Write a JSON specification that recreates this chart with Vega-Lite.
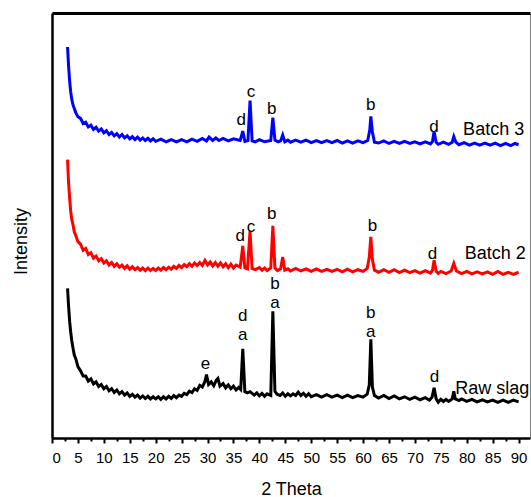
{
"$schema": "https://vega.github.io/schema/vega-lite/v6.json",
"width": 478, "height": 425,
"autosize": "none",
"padding": {"left": 52, "top": 13, "right": 1, "bottom": 59},
"background": "white",
"config": {
 "view": {"stroke": "#808080", "strokeWidth": 1},
 "font": "Liberation Sans",
 "axisY": {"grid": false, "ticks": false, "labels": false, "domainColor": "black", "domainWidth": 2.5, "titleFontSize": 18, "titleFontWeight": "normal", "titleColor": "black", "titleFont": "Liberation Sans", "titlePadding": 22, "titleY": 228},
 "axisX": {"grid": false}
},
"datasets": {
"k": [
{"x":3.0,"y":35.2},{"x":3.2,"y":31.0},{"x":3.4,"y":27.5},{"x":3.6,"y":25.0},{"x":3.8,"y":23.0},{"x":4.0,"y":21.5},{"x":4.3,"y":19.5},{"x":4.6,"y":18.6},{"x":5.0,"y":16.8},{"x":5.5,"y":15.8},{"x":6.0,"y":14.6},{"x":6.5,"y":14.6},{"x":7.0,"y":13.4},{"x":7.5,"y":13.9},{"x":8.0,"y":12.7},{"x":8.5,"y":13.2},{"x":9.0,"y":12.1},{"x":9.5,"y":12.6},{"x":10.0,"y":11.6},{"x":10.5,"y":12.1},{"x":11.0,"y":11.1},{"x":11.5,"y":11.6},{"x":12.0,"y":10.7},{"x":12.5,"y":11.3},{"x":13.0,"y":10.4},{"x":13.5,"y":10.9},{"x":14,"y":10.1},{"x":14.5,"y":10.6},{"x":15,"y":9.8},{"x":15.5,"y":10.3},{"x":16,"y":9.6},{"x":16.5,"y":10.1},{"x":17,"y":9.4},{"x":17.5,"y":9.9},{"x":18,"y":9.3},{"x":18.5,"y":9.8},{"x":19,"y":9.2},{"x":19.5,"y":9.7},{"x":20,"y":9.2},{"x":20.5,"y":9.7},{"x":21,"y":9.1},{"x":21.5,"y":9.7},{"x":22,"y":9.2},{"x":22.5,"y":9.8},{"x":23,"y":9.3},{"x":23.5,"y":10.0},{"x":24,"y":9.5},{"x":24.5,"y":10.1},{"x":25,"y":9.8},{"x":25.5,"y":10.5},{"x":26,"y":10.2},{"x":26.5,"y":11.0},{"x":27,"y":10.7},{"x":27.5,"y":11.6},{"x":28,"y":11.2},{"x":28.5,"y":12.4},{"x":29,"y":12.0},{"x":29.5,"y":13.3},{"x":29.8,"y":14.9},{"x":30.2,"y":12.6},{"x":30.7,"y":13.2},{"x":31.2,"y":12.3},{"x":31.7,"y":13.6},{"x":32,"y":14.0},{"x":32.4,"y":12.2},{"x":33,"y":12.8},{"x":33.5,"y":11.8},{"x":34,"y":12.5},{"x":34.5,"y":11.6},{"x":35,"y":12.2},{"x":35.5,"y":11.3},{"x":36,"y":11.9},{"x":36.4,"y":11.4},{"x":36.8,"y":21.0},{"x":37.2,"y":10.9},{"x":37.7,"y":10.6},{"x":38.2,"y":10.9},{"x":39,"y":10.1},{"x":39.5,"y":10.6},{"x":40,"y":9.9},{"x":40.5,"y":10.5},{"x":41,"y":9.8},{"x":41.5,"y":10.4},{"x":42.2,"y":10.0},{"x":42.6,"y":29.8},{"x":43.0,"y":11.0},{"x":43.4,"y":10.3},{"x":44,"y":10.0},{"x":44.5,"y":10.6},{"x":45,"y":9.8},{"x":45.5,"y":10.4},{"x":46,"y":9.9},{"x":46.5,"y":10.4},{"x":47,"y":10.0},{"x":47.5,"y":10.8},{"x":48,"y":10.0},{"x":48.5,"y":10.5},{"x":49,"y":9.8},{"x":49.5,"y":10.4},{"x":50,"y":9.7},{"x":51,"y":10.2},{"x":52,"y":9.6},{"x":53,"y":10.2},{"x":54,"y":9.6},{"x":55,"y":10.1},{"x":56,"y":9.5},{"x":57,"y":10.1},{"x":58,"y":9.5},{"x":59,"y":10.0},{"x":60,"y":9.6},{"x":60.8,"y":10.3},{"x":61.2,"y":12.5},{"x":61.5,"y":23.2},{"x":61.8,"y":12.0},{"x":62.2,"y":10.0},{"x":63,"y":9.4},{"x":64,"y":10.0},{"x":65,"y":9.3},{"x":66,"y":9.9},{"x":67,"y":9.2},{"x":68,"y":9.7},{"x":69,"y":9.1},{"x":70,"y":9.6},{"x":71,"y":9.0},{"x":72,"y":9.5},{"x":72.8,"y":8.9},{"x":73.3,"y":9.6},{"x":73.7,"y":11.8},{"x":74.1,"y":9.2},{"x":74.5,"y":8.4},{"x":75,"y":9.1},{"x":75.5,"y":8.6},{"x":76,"y":9.1},{"x":76.5,"y":8.6},{"x":77.2,"y":9.2},{"x":77.5,"y":11.0},{"x":77.8,"y":9.2},{"x":78.5,"y":8.8},{"x":79,"y":9.2},{"x":80,"y":8.6},{"x":81,"y":9.1},{"x":82,"y":8.5},{"x":83,"y":9.0},{"x":84,"y":8.5},{"x":85,"y":8.9},{"x":86,"y":8.4},{"x":87,"y":8.9},{"x":88,"y":8.4},{"x":89,"y":8.9},{"x":90,"y":8.5}
],
"r": [
{"x":3.0,"y":65.5},{"x":3.2,"y":60.0},{"x":3.4,"y":56.5},{"x":3.6,"y":53.5},{"x":3.8,"y":51.5},{"x":4.0,"y":50.5},{"x":4.3,"y":48.5},{"x":4.6,"y":47.6},{"x":5.0,"y":46.2},{"x":5.5,"y":45.6},{"x":6.0,"y":44.2},{"x":6.5,"y":44.6},{"x":7.0,"y":43.2},{"x":7.5,"y":43.6},{"x":8.0,"y":42.3},{"x":8.5,"y":42.8},{"x":9,"y":41.7},{"x":9.5,"y":42.2},{"x":10,"y":41.2},{"x":10.5,"y":41.7},{"x":11,"y":40.7},{"x":11.5,"y":41.3},{"x":12,"y":40.4},{"x":12.5,"y":41.0},{"x":13,"y":40.2},{"x":13.5,"y":40.7},{"x":14,"y":39.9},{"x":14.5,"y":40.5},{"x":15,"y":39.7},{"x":15.5,"y":40.3},{"x":16,"y":39.6},{"x":16.5,"y":40.1},{"x":17,"y":39.5},{"x":17.5,"y":40.0},{"x":18,"y":39.4},{"x":18.5,"y":40.0},{"x":19,"y":39.4},{"x":19.5,"y":39.9},{"x":20,"y":39.4},{"x":20.5,"y":40.0},{"x":21,"y":39.5},{"x":21.5,"y":40.1},{"x":22,"y":39.6},{"x":22.5,"y":40.2},{"x":23,"y":39.7},{"x":23.5,"y":40.4},{"x":24,"y":39.9},{"x":24.5,"y":40.6},{"x":25,"y":40.1},{"x":25.5,"y":40.8},{"x":26,"y":40.3},{"x":26.5,"y":41.0},{"x":27,"y":40.4},{"x":27.5,"y":41.2},{"x":28,"y":40.6},{"x":28.5,"y":41.3},{"x":29,"y":40.6},{"x":29.5,"y":41.8},{"x":30,"y":40.7},{"x":30.5,"y":41.4},{"x":31,"y":40.5},{"x":31.5,"y":41.3},{"x":32,"y":40.4},{"x":32.5,"y":41.2},{"x":33,"y":40.3},{"x":33.5,"y":41.0},{"x":34,"y":40.1},{"x":34.5,"y":40.9},{"x":35,"y":40.0},{"x":35.5,"y":40.7},{"x":36.3,"y":40.2},{"x":36.8,"y":45.2},{"x":37.2,"y":40.0},{"x":37.7,"y":39.8},{"x":38.2,"y":48.7},{"x":38.6,"y":39.9},{"x":39.2,"y":39.6},{"x":40,"y":40.1},{"x":40.5,"y":39.5},{"x":41,"y":40.0},{"x":41.5,"y":39.4},{"x":42.2,"y":40.0},{"x":42.6,"y":49.9},{"x":43.0,"y":40.0},{"x":43.5,"y":39.4},{"x":44.1,"y":39.8},{"x":44.5,"y":42.6},{"x":44.9,"y":39.5},{"x":45.5,"y":39.8},{"x":46,"y":39.3},{"x":47,"y":39.9},{"x":48,"y":39.3},{"x":49,"y":39.8},{"x":50,"y":39.2},{"x":51,"y":39.8},{"x":52,"y":39.2},{"x":53,"y":39.7},{"x":54,"y":39.2},{"x":55,"y":39.7},{"x":56,"y":39.1},{"x":57,"y":39.7},{"x":58,"y":39.1},{"x":59,"y":39.6},{"x":60,"y":39.2},{"x":60.8,"y":39.9},{"x":61.2,"y":42.5},{"x":61.5,"y":47.3},{"x":61.8,"y":42.0},{"x":62.2,"y":39.5},{"x":63,"y":39.0},{"x":64,"y":39.6},{"x":65,"y":39.0},{"x":66,"y":39.6},{"x":67,"y":38.9},{"x":68,"y":39.5},{"x":69,"y":38.9},{"x":70,"y":39.4},{"x":71,"y":38.8},{"x":72,"y":39.4},{"x":73,"y":38.8},{"x":73.4,"y":39.5},{"x":73.7,"y":41.8},{"x":74.1,"y":39.2},{"x":74.5,"y":38.7},{"x":75,"y":39.2},{"x":76,"y":38.7},{"x":77,"y":39.3},{"x":77.5,"y":41.1},{"x":78,"y":39.3},{"x":79,"y":38.7},{"x":80,"y":39.2},{"x":81,"y":38.6},{"x":82,"y":39.1},{"x":83,"y":38.6},{"x":84,"y":39.1},{"x":85,"y":38.5},{"x":86,"y":39.2},{"x":87,"y":38.5},{"x":88,"y":39.0},{"x":89,"y":38.5},{"x":90,"y":39.0}
],
"b": [
{"x":3.0,"y":92.0},{"x":3.2,"y":87.5},{"x":3.4,"y":84.0},{"x":3.6,"y":81.5},{"x":3.8,"y":79.8},{"x":4.0,"y":78.6},{"x":4.3,"y":77.5},{"x":4.6,"y":76.5},{"x":5.0,"y":75.6},{"x":5.5,"y":75.2},{"x":6.0,"y":74.0},{"x":6.5,"y":74.3},{"x":7.0,"y":73.2},{"x":7.5,"y":73.6},{"x":8,"y":72.6},{"x":8.5,"y":73.1},{"x":9,"y":72.2},{"x":9.5,"y":72.7},{"x":10,"y":71.8},{"x":10.5,"y":72.3},{"x":11,"y":71.4},{"x":11.5,"y":71.9},{"x":12,"y":71.1},{"x":12.5,"y":71.6},{"x":13,"y":70.8},{"x":13.5,"y":71.4},{"x":14,"y":70.6},{"x":14.5,"y":71.1},{"x":15,"y":70.4},{"x":15.5,"y":70.9},{"x":16,"y":70.2},{"x":16.5,"y":70.8},{"x":17,"y":70.1},{"x":17.5,"y":70.6},{"x":18,"y":70.0},{"x":18.5,"y":70.5},{"x":19,"y":69.9},{"x":19.5,"y":70.4},{"x":20,"y":69.8},{"x":21,"y":70.3},{"x":22,"y":69.7},{"x":23,"y":70.2},{"x":24,"y":69.7},{"x":25,"y":70.2},{"x":26,"y":69.7},{"x":27,"y":70.3},{"x":28,"y":69.8},{"x":29,"y":70.5},{"x":29.8,"y":69.9},{"x":30.3,"y":70.8},{"x":31,"y":70.0},{"x":31.6,"y":70.6},{"x":32.2,"y":70.0},{"x":33,"y":70.5},{"x":34,"y":69.9},{"x":35,"y":70.4},{"x":36.3,"y":70.0},{"x":36.8,"y":72.2},{"x":37.2,"y":69.8},{"x":37.8,"y":70.0},{"x":38.2,"y":79.4},{"x":38.6,"y":69.9},{"x":39.2,"y":69.7},{"x":40,"y":70.2},{"x":41,"y":69.7},{"x":42.2,"y":70.0},{"x":42.6,"y":75.4},{"x":43.0,"y":70.1},{"x":43.6,"y":69.7},{"x":44.1,"y":69.9},{"x":44.5,"y":71.3},{"x":44.9,"y":69.7},{"x":45.5,"y":70.1},{"x":46,"y":69.6},{"x":47,"y":70.1},{"x":48,"y":69.6},{"x":49,"y":70.1},{"x":50,"y":69.5},{"x":51,"y":70.0},{"x":52,"y":69.5},{"x":53,"y":70.0},{"x":54,"y":69.5},{"x":55,"y":70.0},{"x":56,"y":69.4},{"x":57,"y":69.9},{"x":58,"y":69.4},{"x":59,"y":69.9},{"x":60,"y":69.5},{"x":60.9,"y":70.0},{"x":61.3,"y":72.5},{"x":61.5,"y":75.7},{"x":61.8,"y":72.0},{"x":62.2,"y":69.6},{"x":63,"y":69.4},{"x":64,"y":69.9},{"x":65,"y":69.3},{"x":66,"y":69.8},{"x":67,"y":69.3},{"x":68,"y":69.8},{"x":69,"y":69.3},{"x":70,"y":69.7},{"x":71,"y":69.2},{"x":72,"y":69.7},{"x":73,"y":69.2},{"x":73.4,"y":69.8},{"x":73.7,"y":72.1},{"x":74.1,"y":69.6},{"x":74.5,"y":69.1},{"x":75.5,"y":69.6},{"x":76.5,"y":69.1},{"x":77.2,"y":69.6},{"x":77.5,"y":70.9},{"x":77.9,"y":69.6},{"x":78.5,"y":69.0},{"x":79.5,"y":69.5},{"x":80.5,"y":68.9},{"x":81.5,"y":69.4},{"x":82.5,"y":68.9},{"x":83.5,"y":69.4},{"x":84.5,"y":68.9},{"x":85.5,"y":69.4},{"x":86.5,"y":68.8},{"x":87.5,"y":69.3},{"x":88.5,"y":68.8},{"x":89.3,"y":69.3},{"x":90,"y":69.0}
],
"lab": [
{"x":36.5,"y":74.9,"t":"d"},{"x":38.4,"y":81.5,"t":"c"},{"x":42.4,"y":77.3,"t":"b"},{"x":61.5,"y":78.3,"t":"b"},{"x":73.7,"y":73.1,"t":"d"},
{"x":36.3,"y":47.6,"t":"d"},{"x":38.4,"y":49.6,"t":"c"},{"x":42.4,"y":52.8,"t":"b"},{"x":61.8,"y":50.0,"t":"b"},{"x":73.4,"y":43.2,"t":"d"},
{"x":43.0,"y":36.3,"t":"b"},{"x":43.0,"y":31.8,"t":"a"},{"x":36.8,"y":28.6,"t":"d"},{"x":36.8,"y":24.2,"t":"a"},{"x":61.5,"y":29.4,"t":"b"},{"x":61.5,"y":25.0,"t":"a"},{"x":29.6,"y":17.5,"t":"e"},{"x":73.8,"y":14.4,"t":"d"}
],
"names": [
{"x":79.3,"y":72.5,"t":"Batch 3"},{"x":79.6,"y":43.2,"t":"Batch 2"},{"x":77.8,"y":11.5,"t":"Raw slag"}
],
"minor": [
{"x":2.5},{"x":7.5},{"x":12.5},{"x":17.5},{"x":22.5},{"x":27.5},{"x":32.5},{"x":37.5},{"x":42.5},{"x":47.5},{"x":52.5},{"x":57.5},{"x":62.5},{"x":67.5},{"x":72.5},{"x":77.5},{"x":82.5},{"x":87.5}
]
},
"layer": [
{"data": {"name": "k"}, "mark": {"type": "line", "color": "black", "strokeWidth": 3},
 "encoding": {
  "x": {"field": "x", "type": "quantitative", "scale": {"domain": [0, 92.2], "nice": false, "zero": false},
   "axis": {"values": [0,5,10,15,20,25,30,35,40,45,50,55,60,65,70,75,80,85,90], "domainColor": "black", "domainWidth": 2.5, "tickColor": "black", "tickWidth": 2, "tickSize": 5, "labelFontSize": 15, "labelColor": "black", "labelPadding": 7, "labelFont": "Liberation Sans", "title": "2 Theta", "titleFontSize": 18, "titleFontWeight": "normal", "titleColor": "black", "titleFont": "Liberation Sans", "titlePadding": 15, "orient": "bottom"}},
  "y": {"field": "y", "type": "quantitative", "scale": {"domain": [0, 100], "nice": false}, "axis": {"title": "Intensity"}}
 }},
{"data": {"name": "r"}, "mark": {"type": "line", "color": "#ff0000", "strokeWidth": 3},
 "encoding": {"x": {"field": "x", "type": "quantitative", "axis": null}, "y": {"field": "y", "type": "quantitative", "axis": {"title": "Intensity"}}}},
{"data": {"name": "b"}, "mark": {"type": "line", "color": "#0000ff", "strokeWidth": 3},
 "encoding": {"x": {"field": "x", "type": "quantitative", "axis": null}, "y": {"field": "y", "type": "quantitative", "axis": {"title": "Intensity"}}}},
{"data": {"name": "lab"}, "mark": {"type": "text", "fontSize": 17, "font": "Liberation Sans", "color": "black", "align": "center", "baseline": "middle"},
 "encoding": {"x": {"field": "x", "type": "quantitative", "axis": null}, "y": {"field": "y", "type": "quantitative", "axis": {"title": "Intensity"}}, "text": {"field": "t"}}},
{"data": {"name": "names"}, "mark": {"type": "text", "fontSize": 18, "font": "Liberation Sans", "color": "black", "align": "left", "baseline": "middle"},
 "encoding": {"x": {"field": "x", "type": "quantitative", "axis": null}, "y": {"field": "y", "type": "quantitative", "axis": {"title": "Intensity"}}, "text": {"field": "t"}}},
{"data": {"name": "minor"}, "mark": {"type": "point", "opacity": 0},
 "encoding": {"x": {"field": "x", "type": "quantitative",
   "axis": {"values": [2.5,7.5,12.5,17.5,22.5,27.5,32.5,37.5,42.5,47.5,52.5,57.5,62.5,67.5,72.5,77.5,82.5,87.5], "orient": "bottom", "labels": false, "domain": false, "tickColor": "black", "tickWidth": 2, "tickSize": 3, "title": null}}}},
{"data": {"name": "minor"}, "mark": {"type": "point", "opacity": 0},
 "encoding": {"x": {"field": "x", "type": "quantitative",
   "axis": {"orient": "top", "labels": false, "ticks": false, "domain": true, "domainColor": "black", "domainWidth": 3, "title": null}}}}
],
"resolve": {"axis": {"x": "independent"}}
}
